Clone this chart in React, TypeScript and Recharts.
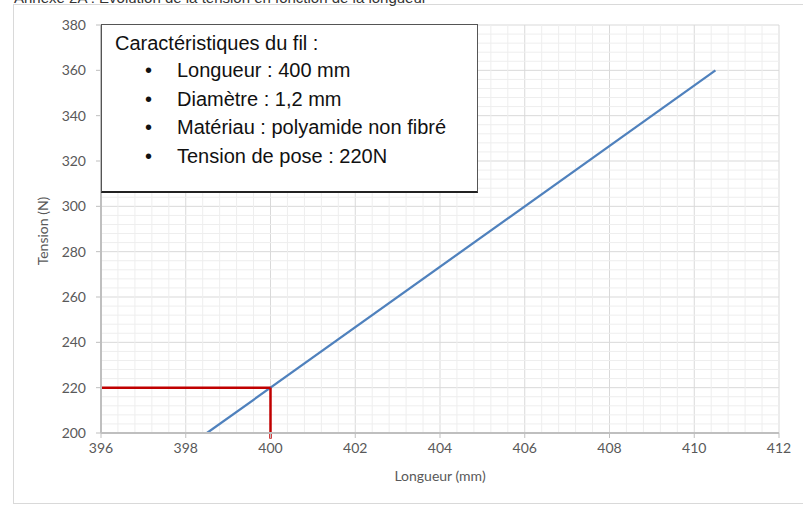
import React from "react";
import {
  LineChart,
  Line,
  XAxis,
  YAxis,
  CartesianGrid,
  ReferenceLine,
} from "recharts";

// Data
const lengthValues = [398.5, 410.5];
const tensionValues = [200, 360];
const xTicks = [396, 398, 400, 402, 404, 406, 408, 410, 412];
const yTicks = [200, 220, 240, 260, 280, 300, 320, 340, 360, 380];
const poseLength = 400;
const poseTension = 220;
const boxTitle = "Caractéristiques du fil :";
const boxItems = [
  "Longueur : 400 mm",
  "Diamètre : 1,2 mm",
  "Matériau : polyamide non fibré",
  "Tension de pose : 220N",
];
const chartTitle = "Annexe 2A : Evolution de la tension en fonction de la longueur";

const data = lengthValues.map((x, i) => ({ x, y: tensionValues[i] }));

// minor grid (5 subdivisions between major ticks)
const minorX: number[] = [];
for (let i = 0; i < xTicks.length - 1; i++) {
  for (let k = 1; k < 5; k++) minorX.push(+(xTicks[i] + (k * (xTicks[i + 1] - xTicks[i])) / 5).toFixed(2));
}
const minorY: number[] = [];
for (let i = 0; i < yTicks.length - 1; i++) {
  for (let k = 1; k < 5; k++) minorY.push(yTicks[i] + (k * (yTicks[i + 1] - yTicks[i])) / 5);
}

const tickStyle = { fill: "#595959", fontSize: 14, fontFamily: "Lato" };

export default function App() {
  const lineTops = [70, 98.5, 127, 156];
  const boxFont = {
    fontFamily: "Liberation Sans",
    fontSize: 20,
    lineHeight: "24px",
    color: "#111",
    whiteSpace: "nowrap" as const,
  };
  return (
    <div style={{ position: "relative", width: 803, height: 508, overflow: "hidden", background: "#fff" }}>
      <style>{"body{margin:0}"}</style>
      <div
        style={{
          position: "absolute",
          left: 13,
          top: 4,
          width: 800,
          height: 498,
          border: "1px solid #D9D9D9",
        }}
      />
      <div
        style={{
          position: "absolute",
          left: 14,
          top: -10,
          fontFamily: "Liberation Sans",
          fontSize: 15,
          color: "#333",
          whiteSpace: "nowrap",
          lineHeight: "15px",
        }}
      >
        {chartTitle}
      </div>
      <div style={{ position: "absolute", left: 0, top: 0 }}>
        <LineChart width={803} height={508} data={data} margin={{ top: 25, right: 24, left: 41, bottom: 45 }}>
          <CartesianGrid stroke="#D9D9D9" strokeWidth={1} />
          {minorX.map((v) => (
            <ReferenceLine key={"mx" + v} x={v} stroke="#EEEEEE" strokeWidth={1} />
          ))}
          {minorY.map((v) => (
            <ReferenceLine key={"my" + v} y={v} stroke="#EEEEEE" strokeWidth={1} />
          ))}
          <XAxis
            dataKey="x"
            type="number"
            domain={[396, 412]}
            ticks={xTicks}
            height={30}
            tick={tickStyle}
            tickSize={5}
            tickMargin={5}
            axisLine={{ stroke: "#BFBFBF", strokeWidth: 2 }}
            tickLine={{ stroke: "#BFBFBF" }}
            allowDataOverflow
          />
          <YAxis
            type="number"
            domain={[200, 380]}
            ticks={yTicks}
            width={60}
            tick={tickStyle}
            tickSize={5}
            tickMargin={10}
            axisLine={{ stroke: "#BFBFBF", strokeWidth: 2 }}
            tickLine={{ stroke: "#BFBFBF" }}
            allowDataOverflow
          />
          <Line
            dataKey="y"
            stroke="#4F81BD"
            strokeWidth={2.25}
            dot={false}
            isAnimationActive={false}
          />
          <ReferenceLine
            segment={[
              { x: 396, y: poseTension },
              { x: poseLength, y: poseTension },
            ]}
            stroke="#C00000"
            strokeWidth={2.5}
            ifOverflow="visible"
          />
          <ReferenceLine
            segment={[
              { x: poseLength, y: poseTension },
              { x: poseLength, y: 197.5 },
            ]}
            stroke="#C00000"
            strokeWidth={2.5}
            ifOverflow="visible"
          />
        </LineChart>
      </div>
      <div
        style={{
          position: "absolute",
          left: 380,
          width: 120,
          top: 467,
          textAlign: "center",
          fontFamily: "Lato",
          fontSize: 14,
          color: "#595959",
          whiteSpace: "nowrap",
        }}
      >
        Longueur (mm)
      </div>
      <div
        style={{
          position: "absolute",
          left: 43 - 60,
          top: 231 - 10,
          width: 120,
          height: 20,
          lineHeight: "20px",
          textAlign: "center",
          transform: "rotate(-90deg)",
          fontFamily: "Lato",
          fontSize: 14,
          color: "#595959",
          whiteSpace: "nowrap",
        }}
      >
        Tension (N)
      </div>
      <div
        style={{
          position: "absolute",
          left: 101,
          top: 24,
          width: 375,
          height: 166,
          border: "1.5px solid #555",
          borderBottom: "2.5px solid #222",
          background: "#fff",
        }}
      />
      <div style={{ ...boxFont, position: "absolute", left: 115, top: 43 - 12 }}>{boxTitle}</div>
      {boxItems.map((t, i) => (
        <React.Fragment key={t}>
          <div style={{ ...boxFont, position: "absolute", left: 145, top: lineTops[i] - 12 }}>•</div>
          <div style={{ ...boxFont, position: "absolute", left: 177, top: lineTops[i] - 12 }}>{t}</div>
        </React.Fragment>
      ))}
    </div>
  );
}
